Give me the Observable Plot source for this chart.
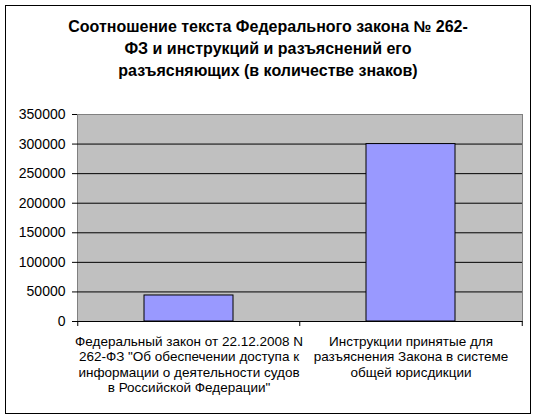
<!DOCTYPE html>
<html>
<head>
<meta charset="utf-8">
<script src="https://cdn.jsdelivr.net/npm/d3@7"></script>
<script src="https://cdn.jsdelivr.net/npm/@observablehq/plot@0.6"></script>
<style>
  html, body { margin: 0; padding: 0; background: #fff; }
  body { width: 535px; height: 417px; position: relative; overflow: hidden; font-family: "Liberation Sans", Arial, sans-serif; }
  #frame { position: absolute; left: 5px; top: 5px; width: 524px; height: 407px; border: 1px solid #000; background: #fff; }
  #title { position: absolute; left: 5px; width: 526px; top: 16px; text-align: center; font-weight: bold; font-size: 16px; line-height: 22px; color: #000; }
  #chart { position: absolute; left: 0; top: 95px; }
</style>
</head>
<body>
<div id="frame"></div>
<div id="title">Соотношение текста Федерального закона № 262-<br>ФЗ и инструкций и разъяснений его<br>разъясняющих (в количестве знаков)</div>
<div id="chart"></div>
<script>
const categories = [
  "Федеральный закон от 22.12.2008 N 262-ФЗ \"Об обеспечении доступа к информации о деятельности судов в Российской Федерации\"",
  "Инструкции принятые для разъяснения Закона в системе общей юрисдикции"
];
const tickLabels = [
  "Федеральный закон от 22.12.2008 N\n262-ФЗ \"Об обеспечении доступа к\nинформации о деятельности судов\nв Российской Федерации\"",
  "Инструкции принятые для\nразъяснения Закона в системе\nобщей юрисдикции"
];
const values = [44000, 300000];
const yTicks = [0, 50000, 100000, 150000, 200000, 250000, 300000, 350000];

const W = 535, H = 320, ML = 77, MR = 13, MT = 19, MB = 94;
const xOpts = {type: "band", domain: categories, paddingInner: 0.6, paddingOuter: 0.3};
const xs = Plot.scale({x: {...xOpts, range: [ML, W - MR]}});
const step = xs.step ?? (W - ML - MR) / categories.length;

const data = categories.map((c, i) => ({c, v: values[i]}));

const chart = Plot.plot({
  width: W, height: H,
  marginLeft: ML, marginRight: MR, marginTop: MT, marginBottom: MB,
  style: {background: "transparent", fontFamily: "'Liberation Sans', Arial, sans-serif", color: "#000", overflow: "visible"},
  x: {domain: categories, paddingInner: 0.6, paddingOuter: 0.3},
  y: {domain: [0, 350000]},
  marks: [
    Plot.frame({fill: "#c0c0c0", stroke: "#808080"}),
    Plot.ruleY(yTicks.filter(t => t > 0 && t < 350000), {stroke: "#000"}),
    Plot.barY(data, {x: "c", y: "v", fill: "#9999ff", stroke: "#000", strokeWidth: 1}),
    Plot.ruleY([0], {stroke: "#000"}),
    Plot.axisY({ticks: yTicks, tickSize: 5, tickPadding: 7, tickFormat: d => String(d), fontSize: 14, line: true, label: null}),
    Plot.axisX({tickSize: 0, tickPadding: 13, tickFormat: d => tickLabels[categories.indexOf(d)], fontSize: 13.5, lineHeight: 1.15, label: null}),
    Plot.axisX({ticks: categories, tickSize: 5, tickFormat: () => "", dx: -step / 2, label: null}),
    Plot.axisX({ticks: [categories[categories.length - 1]], tickSize: 5, tickFormat: () => "", dx: step / 2, label: null})
  ]
});
document.getElementById("chart").appendChild(chart);
</script>
</body>
</html>
